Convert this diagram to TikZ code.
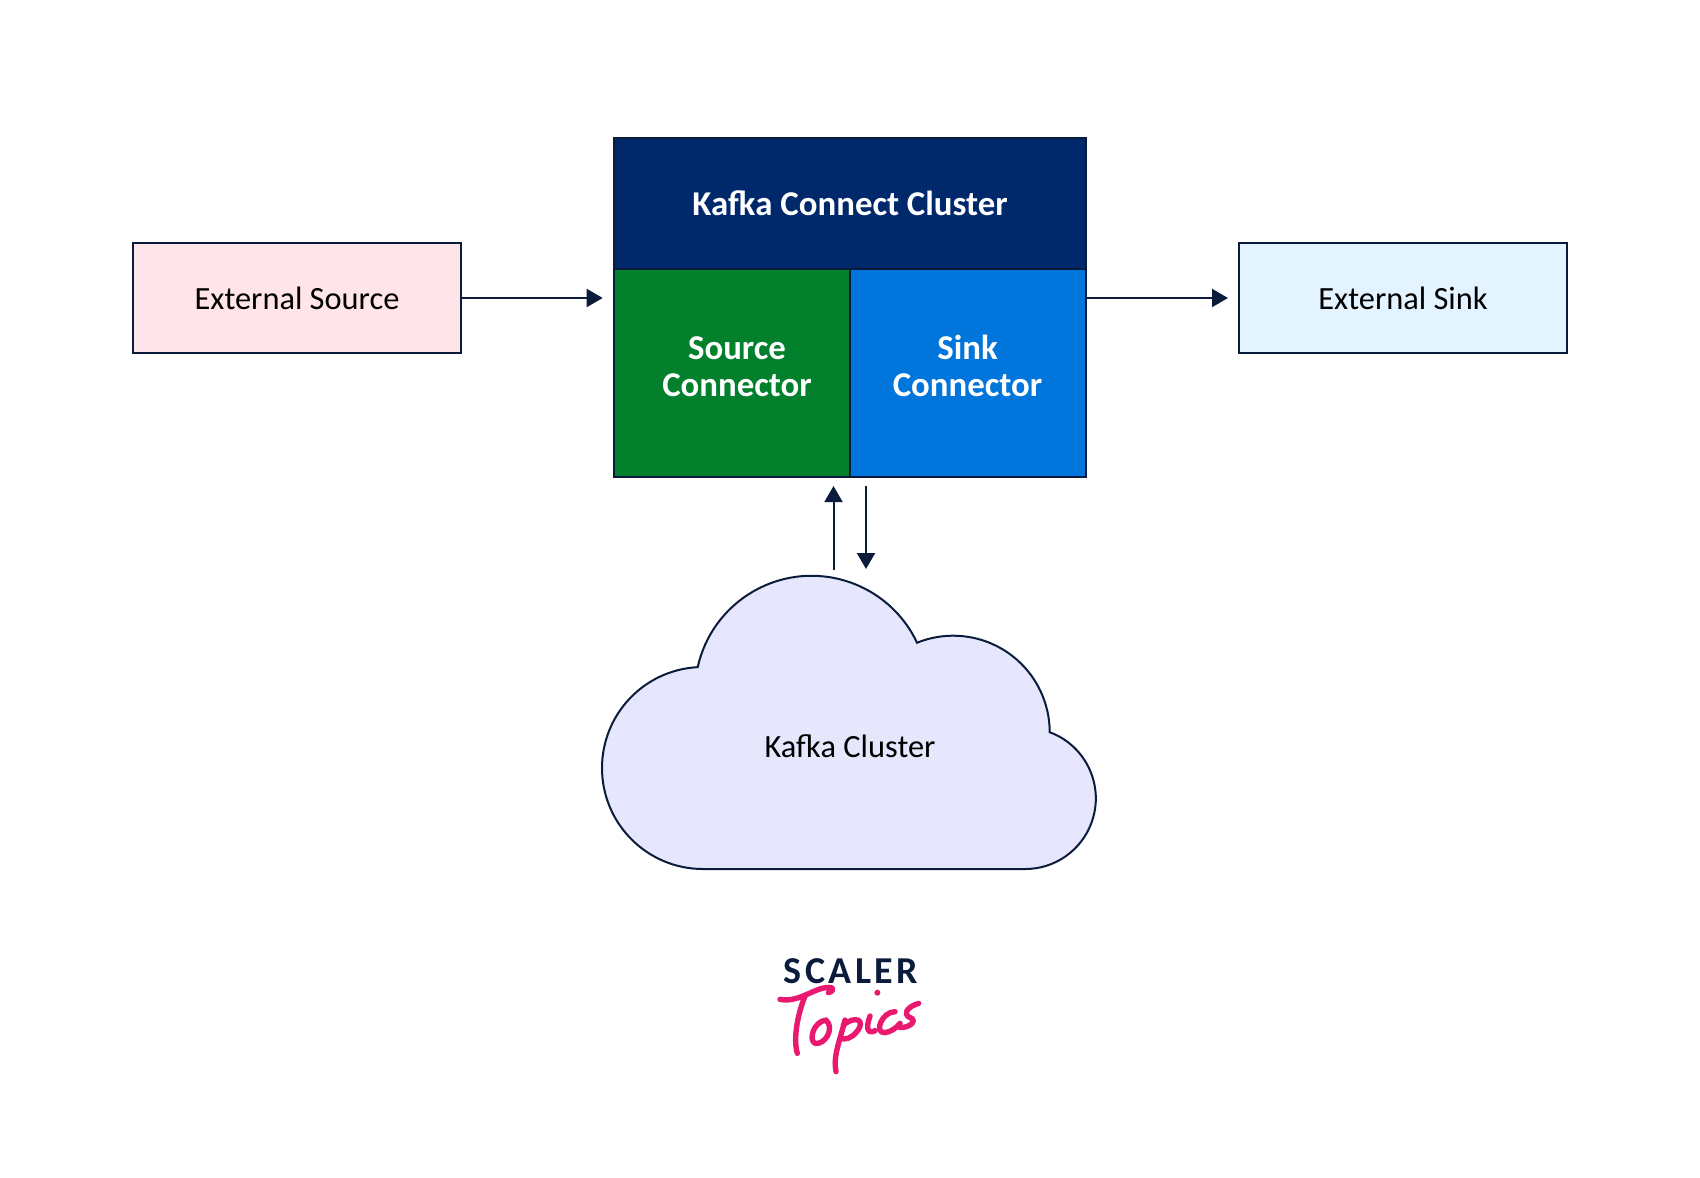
\documentclass[tikz,border=0pt]{standalone}
\usepackage{fontspec}
\setmainfont{Carlito}
\usepackage{xcolor}
\usetikzlibrary{positioning,arrows.meta}
\definecolor{inkline}{HTML}{0B1B3B}
\definecolor{headblue}{HTML}{00296B}
\definecolor{srcgreen}{HTML}{03802B}
\definecolor{sinkblue}{HTML}{0075DB}
\definecolor{srcpink}{HTML}{FFE4E9}
\definecolor{sinksky}{HTML}{E3F3FF}
\definecolor{cloudlav}{HTML}{E6E6FC}
\definecolor{logopink}{HTML}{E8196F}

\begin{document}
\begin{tikzpicture}[
  x=0.5pt, y=-0.5pt,
  block/.style={draw=inkline, line width=1pt, rectangle, inner sep=0pt, outer sep=0pt, font=\fontsize{16.2}{18}\selectfont},
  ext/.style={block, minimum width=164pt, minimum height=55pt, text=black},
  cell/.style={block, minimum width=118pt, minimum height=104pt},
  whitetext/.style={text=white, font=\fontsize{17.4}{18.5}\selectfont\bfseries, align=center},
  link/.style={draw=inkline, line width=1pt, -{Triangle[length=8pt,width=9pt]}},
  stroke/.style={draw=logopink, line width=2.7pt, line cap=round, line join=round}
]
\useasboundingbox (0,0) rectangle (1700,1177);

% External boxes
\node[ext, fill=srcpink] (source) at (297,298) {External Source};
\node[ext, fill=sinksky] (sink) at (1403,298) {External Sink};

% Connect cluster
\node[block, fill=headblue, minimum width=236pt, minimum height=65.5pt] (head) at (849.5,203.5) {};
\node[cell, fill=srcgreen] (srcbox) at (731.5,373) {};
\node[cell, fill=sinkblue] (sinkbox) at (967.5,373) {};
\node[whitetext] (headlabel) at (850,203) {Kafka Connect Cluster};
\node[whitetext] (srclabel) at (737,367) {Source\\Connector};
\node[whitetext] (sinklabel) at (967.5,365.5) {Sink\\Connector};

% Cloud
\draw[draw=inkline, line width=1pt, fill=cloudlav]
  (703,869) arc[start angle=90, end angle=267, radius=101]
  arc[start angle=192.5, end angle=334.8, radius=116.6]
  arc[start angle=248, end angle=360, radius=96.5]
  arc[start angle=290.3, end angle=450, radius=70.6]
  -- cycle;
\node[font=\fontsize{16.2}{18}\selectfont] (cloudlabel) at (850,746) {Kafka Cluster};

% Free ends on the cloud side
\coordinate (srcanchor) at (833.5,570);
\coordinate (srctip) at (833.5,486);
\coordinate (sinkanchor) at (866,486);
\coordinate (sinktip) at (866,569);

% Arrows
\draw[link, shorten >=5.4pt] (source.east) -- (source.east -| srcbox.west);
\draw[link, shorten >=5.5pt] (sinkbox.east |- sink.west) -- (sink.west);
\draw[link] (srcanchor) -- (srctip);
\draw[link] (sinkanchor) -- (sinktip);

% Logo
\node[font=\fontsize{19}{20}\selectfont\bfseries, text=inkline] (scaler) at (851,971) {S\kern1.7pt C\kern1.7pt A\kern1.7pt L\kern1.7pt E\kern1.7pt R};
\begin{scope}[shift={(760,940)}, x=0.1667pt, y=-0.1667pt]
  \draw[stroke] (60,178) .. controls (120,190) and (170,135) .. (215,143) .. controls (222,150) and (215,155) .. (205,158);
  \draw[stroke] (135,168) .. controls (110,230) and (100,300) .. (112,340);
  \draw[stroke] (198,240) .. controls (160,245) and (145,300) .. (165,310) .. controls (195,315) and (225,265) .. (198,240);
  \draw[stroke] (255,240) .. controls (240,300) and (218,350) .. (228,395);
  \draw[stroke] (250,255) .. controls (285,225) and (320,240) .. (290,275) .. controls (275,295) and (255,300) .. (240,295);
  \draw[stroke] (330,228) .. controls (318,260) and (320,285) .. (345,272);
  \fill[logopink] (352,158) circle[radius=9];
  \draw[stroke] (405,215) .. controls (365,215) and (340,280) .. (375,278) .. controls (395,275) and (410,262) .. (420,250);
  \draw[stroke] (476,190) .. controls (440,200) and (425,225) .. (455,235) .. controls (470,245) and (445,265) .. (418,262);
\end{scope}
\end{tikzpicture}
\end{document}
